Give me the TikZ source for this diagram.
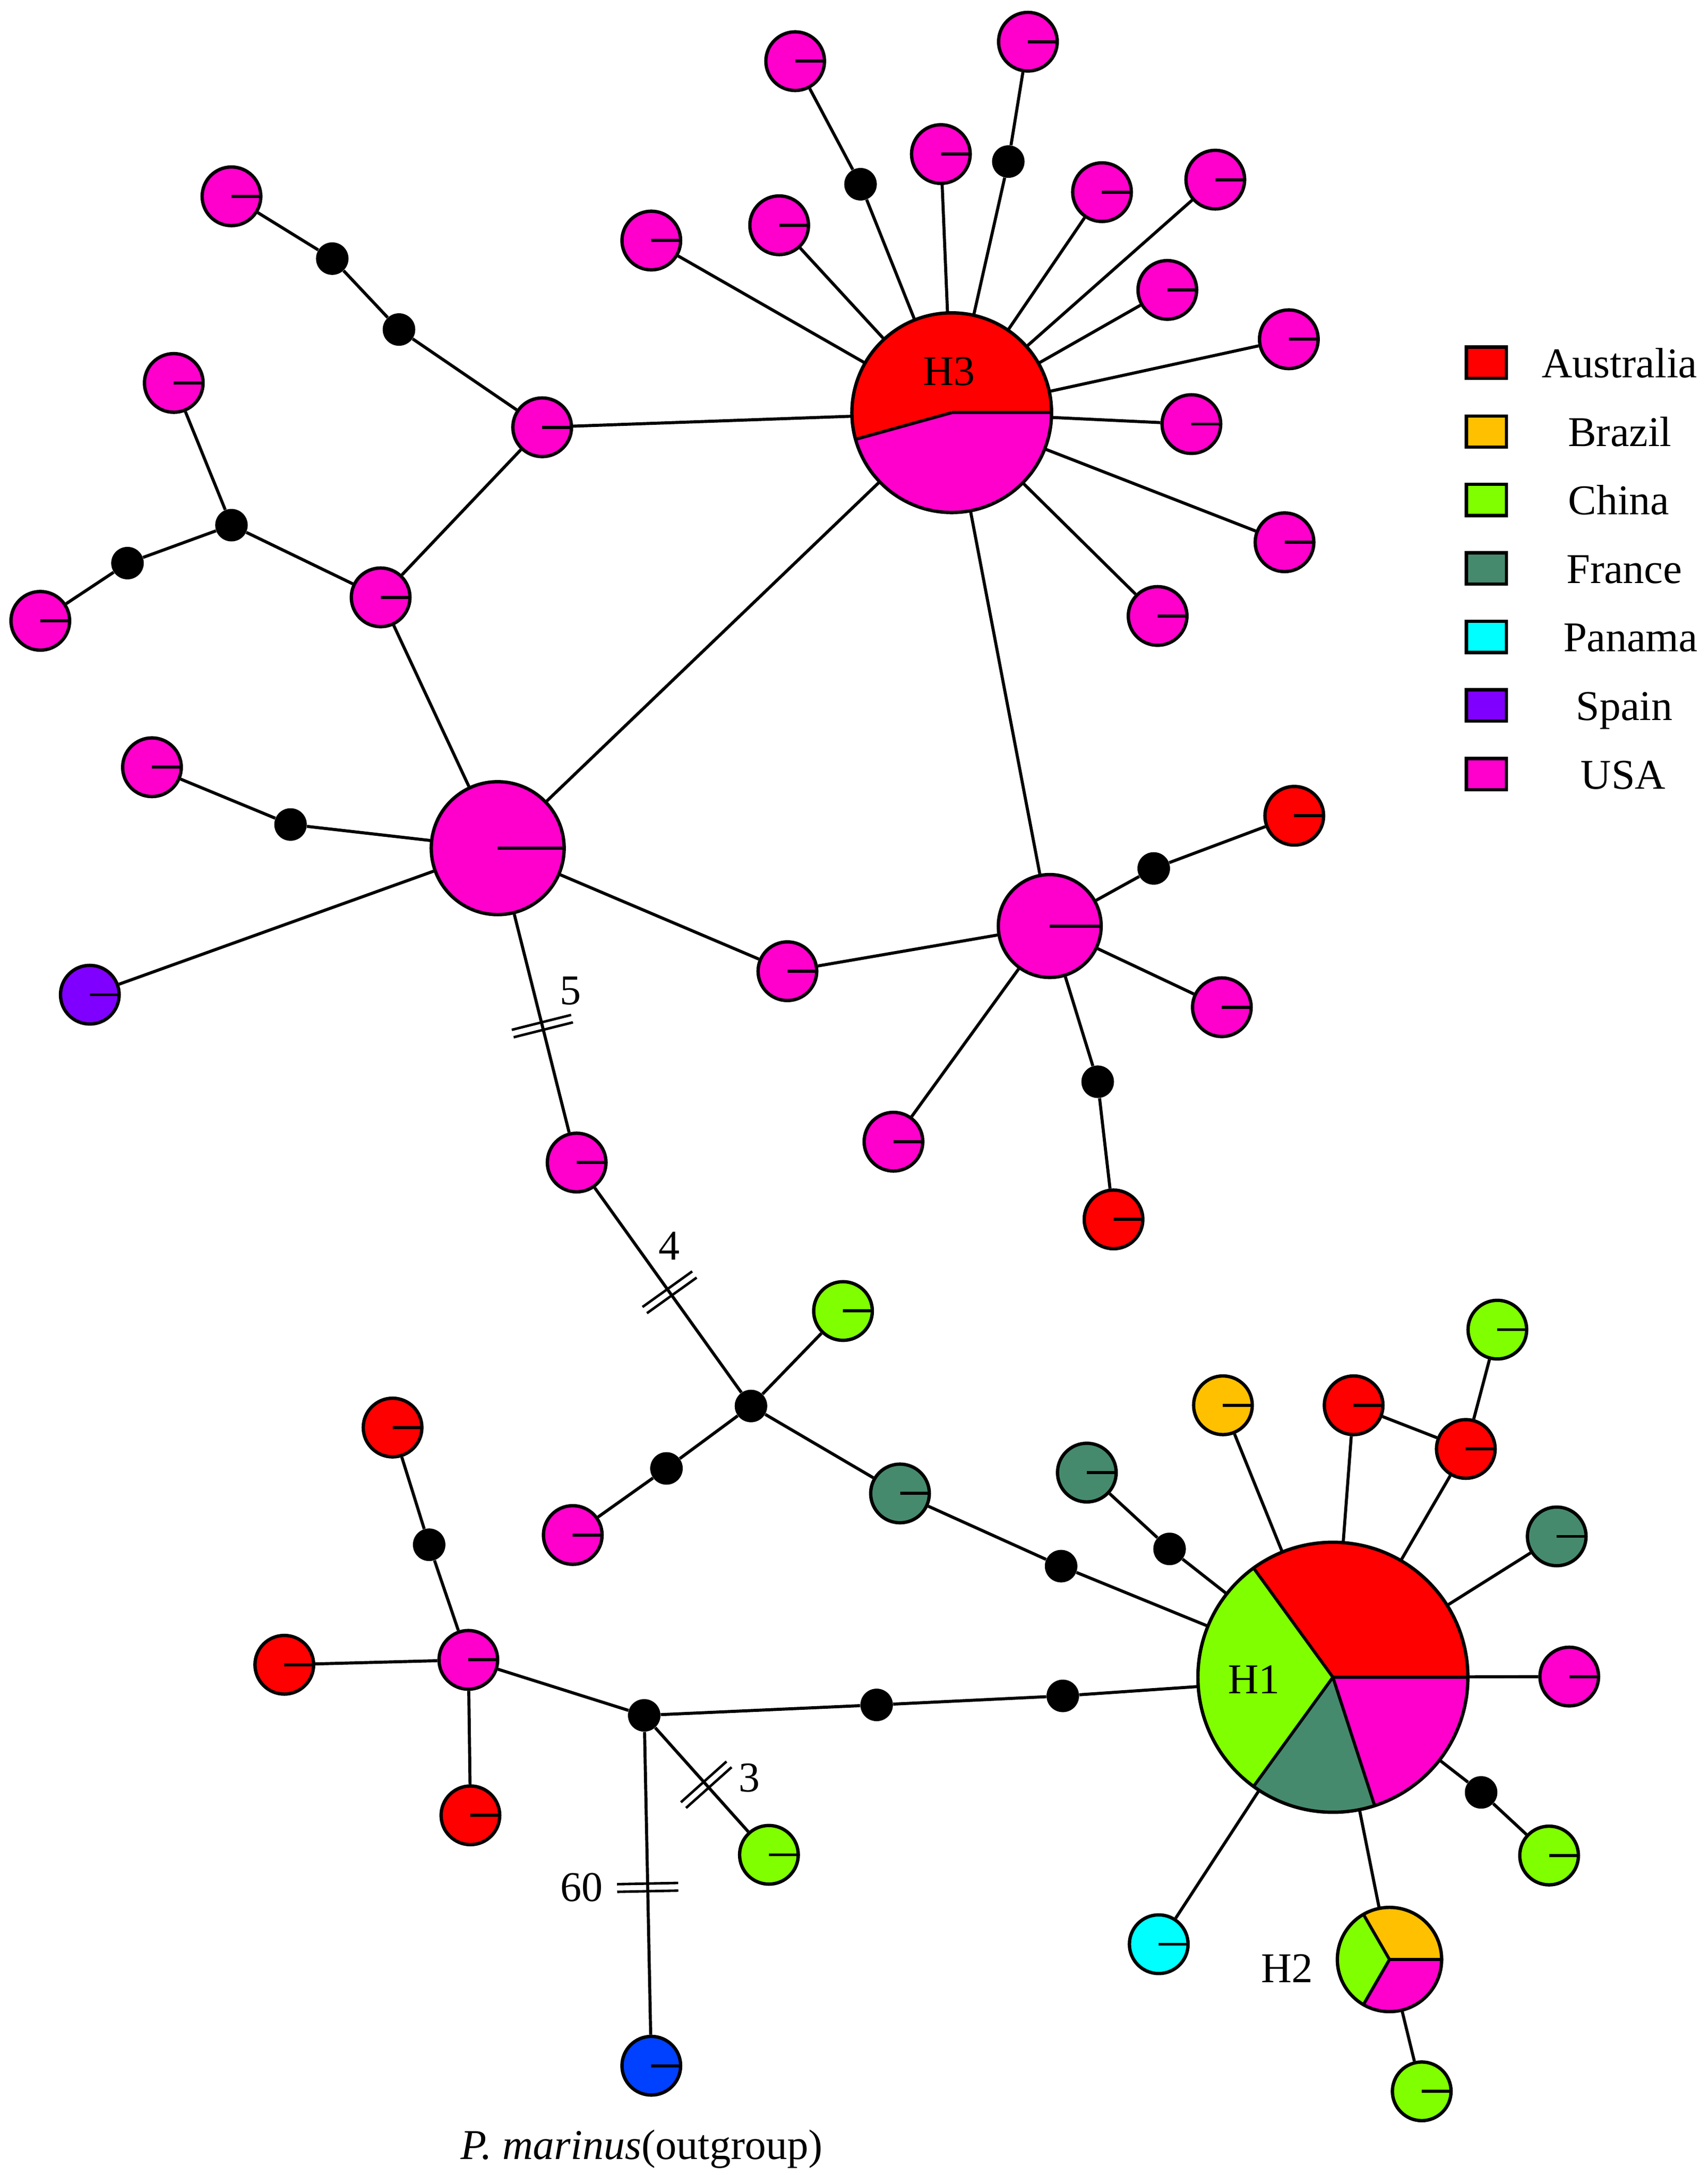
\documentclass[tikz,border=0pt]{standalone}
\usepackage{fontspec}
\setmainfont{Liberation Serif}
\usetikzlibrary{calc}
\definecolor{aus}{HTML}{FF0000}
\definecolor{bra}{HTML}{FFC000}
\definecolor{chn}{HTML}{80FF00}
\definecolor{fra}{HTML}{468A6E}
\definecolor{pan}{HTML}{00FFFF}
\definecolor{spa}{HTML}{8000FF}
\definecolor{usa}{HTML}{FF00CC}
\definecolor{outg}{HTML}{0040FF}
\tikzset{
 edge/.style={line width=2.2pt},
 hap/.style={circle, draw, line width=2.4pt, minimum size=42.2pt, inner sep=0pt,
   path picture={\draw[line width=2.2pt] (path picture bounding box.center) -- (path picture bounding box.east);}},
 mv/.style={circle, fill=black, minimum size=23.4pt, inner sep=0pt},
 lbl/.style={font=\fontsize{30.5}{36}\selectfont, inner sep=0pt},
 brkline/.style={line width=1.8pt},
 legbox/.style={draw, line width=2.4pt, minimum width=28.9pt, minimum height=22.5pt, inner sep=0pt},
 piebase/.style={circle, inner sep=0pt},
}
\newcommand\hapslice[5]{% center, radius, start, end, colour
  \fill[#5] (#1) -- ++(#3:#2) arc[start angle=#3, end angle=#4, radius=#2] -- cycle;}
\newcommand\brkmark[3]{% node A, node B, fraction
  \coordinate (bm) at ($(#1)!#3!(#2)$);
  \coordinate (bma) at ($(bm)!2.75pt!(#2)$);
  \coordinate (bmb) at ($(bm)!-2.75pt!(#2)$);
  \draw[brkline] ($(bma)!22pt!90:(#2)$) -- ($(bma)!22pt!-90:(#2)$);
  \draw[brkline] ($(bmb)!22pt!90:(#2)$) -- ($(bmb)!22pt!-90:(#2)$);
}
\begin{document}
\begin{tikzpicture}[x=1pt,y=1pt]
\useasboundingbox (0,0) rectangle (1228.3,-1564.3);

% ---------- pie nodes ----------
\node[piebase, minimum size=143.6pt] (H3) at (684.6,-296.8) {};
\hapslice{H3.center}{71.8}{0}{195.5}{aus}
\hapslice{H3.center}{71.8}{195.5}{360}{usa}
\draw[edge] (H3.center) -- ++(0:71.8);
\draw[edge] (H3.center) -- ++(195.5:71.8);
\draw[line width=2.4pt] (H3.center) circle[radius=71.8];

\node[piebase, minimum size=194.2pt] (H1) at (958.8,-1206.3) {};
\hapslice{H1.center}{97.1}{0}{126}{aus}
\hapslice{H1.center}{97.1}{126}{234}{chn}
\hapslice{H1.center}{97.1}{234}{288}{fra}
\hapslice{H1.center}{97.1}{288}{360}{usa}
\foreach \ang in {0,126,234,288} \draw[edge] (H1.center) -- ++(\ang:97.1);
\draw[line width=2.4pt] (H1.center) circle[radius=97.1];

\node[piebase, minimum size=75pt] (H2) at (999.5,-1409.3) {};
\hapslice{H2.center}{37.5}{0}{120}{bra}
\hapslice{H2.center}{37.5}{120}{240}{chn}
\hapslice{H2.center}{37.5}{240}{360}{usa}
\foreach \ang in {0,120,240} \draw[edge] (H2.center) -- ++(\ang:37.5);
\draw[line width=2.4pt] (H2.center) circle[radius=37.5];

% ---------- haplotype nodes ----------
\node[hap,fill=usa] (t1) at (572,-44) {};
\node[mv] (d1) at (619,-132.5) {};
\node[hap,fill=usa] (t2) at (739.4,-30) {};
\node[mv] (d2) at (725.3,-116.2) {};
\node[hap,fill=usa] (t3) at (676.8,-110.8) {};
\node[hap,fill=usa] (t4) at (560.5,-162) {};
\node[hap,fill=usa] (t5) at (468.5,-173) {};
\node[hap,fill=usa] (t6) at (792.7,-138.2) {};
\node[hap,fill=usa] (t7) at (874.2,-129.2) {};
\node[hap,fill=usa] (t8) at (839.7,-208.5) {};
\node[hap,fill=usa] (t9) at (927.1,-244) {};
\node[hap,fill=usa] (t10) at (857,-305) {};
\node[hap,fill=usa] (t11) at (924,-390) {};
\node[hap,fill=usa] (t12) at (832.7,-443) {};

\node[hap,fill=usa] (a1) at (390,-307.3) {};
\node[mv] (d3) at (287,-237) {};
\node[mv] (d4) at (239,-186) {};
\node[hap,fill=usa] (a2) at (166.5,-141.2) {};
\node[hap,fill=usa] (a3) at (273.8,-429.6) {};
\node[mv] (d5) at (166.5,-377.7) {};
\node[hap,fill=usa] (a4) at (125,-275.4) {};
\node[mv] (d6) at (91.7,-405) {};
\node[hap,fill=usa] (a5) at (29,-446.5) {};
\node[hap,fill=usa,minimum size=95.6pt] (P2) at (358,-610) {};
\node[mv] (d7) at (209,-593) {};
\node[hap,fill=usa] (a6) at (109.3,-551.8) {};
\node[hap,fill=spa] (sp) at (64.6,-715.4) {};
\node[hap,fill=usa] (a7) at (566.4,-698.5) {};
\node[hap,fill=usa,minimum size=74pt] (P3) at (755.1,-666) {};
\node[mv] (d8) at (829.9,-624.6) {};
\node[hap,fill=aus] (r1) at (931,-586.7) {};
\node[hap,fill=usa] (a8) at (878.9,-724.4) {};
\node[mv] (d9) at (789.6,-778) {};
\node[hap,fill=aus] (r2) at (801,-877) {};
\node[hap,fill=usa] (a9) at (642.7,-821.1) {};

\node[hap,fill=usa] (m1) at (414.8,-836.1) {};
\node[mv] (J) at (540.2,-1011.2) {};
\node[hap,fill=chn] (g1) at (606.4,-942.9) {};
\node[mv] (d10) at (479.4,-1056.1) {};
\node[hap,fill=usa] (a10) at (412,-1104) {};
\node[hap,fill=fra] (f1) at (647.4,-1074.1) {};
\node[mv] (d11) at (763.3,-1126.4) {};
\node[hap,fill=fra] (f2) at (781.8,-1059.1) {};
\node[mv] (d12) at (841.3,-1114) {};
\node[hap,fill=bra] (b1) at (879.7,-1010.7) {};
\node[hap,fill=aus] (r3) at (973.7,-1010.7) {};
\node[hap,fill=aus] (r4) at (1054.4,-1042.1) {};
\node[hap,fill=chn] (g2) at (1077.1,-956.3) {};
\node[hap,fill=fra] (f3) at (1119.8,-1105) {};
\node[hap,fill=usa] (a11) at (1128.8,-1205.8) {};
\node[mv] (d13) at (1065.4,-1289.1) {};
\node[hap,fill=chn] (g3) at (1114.3,-1334.5) {};
\node[hap,fill=chn] (g4) at (1022.7,-1504.1) {};
\node[hap,fill=pan] (c1) at (833.5,-1398.3) {};
\node[mv] (d14) at (764.5,-1219.7) {};
\node[mv] (d15) at (630.6,-1226.2) {};
\node[mv] (K) at (463.4,-1233.7) {};
\node[hap,fill=usa] (L) at (336.9,-1193.8) {};
\node[mv] (d16) at (308.7,-1111) {};
\node[hap,fill=aus] (r5) at (282.4,-1026.7) {};
\node[hap,fill=aus] (r6) at (204.5,-1197.3) {};
\node[hap,fill=aus] (r7) at (338.4,-1305.6) {};
\node[hap,fill=chn] (g5) at (553.1,-1334) {};
\node[hap,fill=outg] (o1) at (468.5,-1485.7) {};

% ---------- connectors ----------
\foreach \a/\b in {t1/d1, d1/H3, t2/d2, d2/H3, t3/H3, t4/H3, t5/H3, t6/H3, t7/H3,
  t8/H3, t9/H3, t10/H3, t11/H3, t12/H3, a1/H3, P2/H3, P3/H3,
  a1/d3, d3/d4, d4/a2, a1/a3, a3/d5, d5/a4, d5/d6, d6/a5, a3/P2,
  P2/d7, d7/a6, P2/sp, P2/a7, a7/P3, P3/d8, d8/r1, P3/a8, P3/d9, d9/r2, P3/a9,
  P2/m1, m1/J, J/g1, J/d10, d10/a10, J/f1, f1/d11, d11/H1,
  H1/d12, d12/f2, H1/b1, H1/r3, r3/r4, H1/r4, r4/g2, H1/f3, H1/a11,
  H1/d13, d13/g3, H1/H2, H2/g4, H1/c1, H1/d14, d14/d15, d15/K,
  K/L, L/d16, d16/r5, L/r6, L/r7, K/g5, K/o1}
  \draw[edge] (\a) -- (\b);

% ---------- break marks ----------
\brkmark{P2}{m1}{0.566}
\brkmark{m1}{J}{0.533}
\brkmark{K}{g5}{0.4975}
\brkmark{K}{o1}{0.491}

% ---------- labels ----------
\node[lbl] (lH3) at (682.6,-267) {H3};
\node[lbl] (lH1) at (902,-1207.8) {H1};
\node[lbl] (lH2) at (925.9,-1415.8) {H2};
\node[lbl] (l5) at (410.5,-712.5) {5};
\node[lbl] (l4) at (481.4,-896) {4};
\node[lbl] (l3) at (539,-1278.6) {3};
\node[lbl] (l60) at (418.3,-1357.4) {60};
\node[lbl,anchor=base] (lout) at (461.7,-1553) {\textit{P. marinus}(outgroup)};

% ---------- legend ----------
\foreach \y/\c/\tx/\t [count=\i] in {260.9/aus/1165/Australia, 310.4/bra/1165.2/Brazil,
  359.5/chn/1164.4/China, 408.9/fra/1168.4/France, 458/pan/1172.9/Panama,
  507.4/spa/1168.4/Spain, 556.8/usa/1167.6/USA} {
  \node[legbox,fill=\c] (k\i) at (1069.25,-\y) {};
  \node[lbl,anchor=base] (kt\i) at (\tx,-\y-10.5) {\t};
}
\end{tikzpicture}
\end{document}
